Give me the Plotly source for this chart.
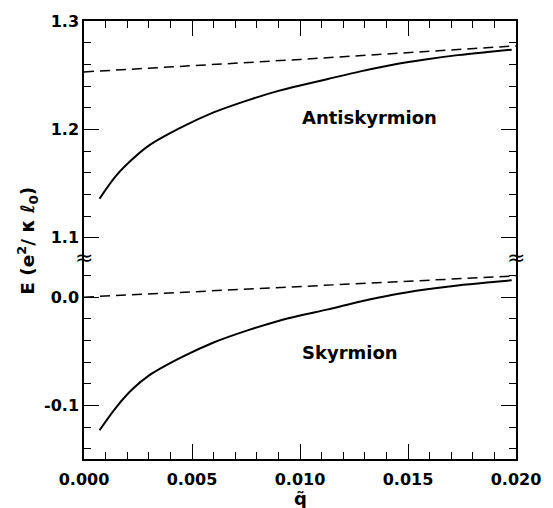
import plotly.graph_objects as go

# Energy of (anti)skyrmion vs. q-tilde; y axis broken between 0.035 and 1.08
q_anti = [0.00072, 0.0015, 0.00226, 0.0030, 0.0045, 0.0060, 0.0075, 0.0090,
          0.0100, 0.0113, 0.0128, 0.0143, 0.0158, 0.0173, 0.0188, 0.0198]
e_anti = [1.136, 1.1575, 1.1728, 1.1850, 1.2018, 1.2156, 1.2263, 1.2355,
          1.2405, 1.2465, 1.2535, 1.2597, 1.2645, 1.2685, 1.2716, 1.2735]

q_sky = [0.00072, 0.0015, 0.00226, 0.0030, 0.0045, 0.0060, 0.0075, 0.0090,
         0.0100, 0.0113, 0.0128, 0.0143, 0.0158, 0.0173, 0.0188, 0.0198]
e_sky = [-0.1229, -0.1015, -0.0847, -0.0725, -0.0557, -0.0419, -0.0312, -0.0220,
         -0.0170, -0.0113, -0.0040, 0.0022, 0.0070, 0.0108, 0.0138, 0.0156]

q_ref = [0.0, 0.010, 0.020]
e_anti_ref = [1.253, 1.2645, 1.277]
e_sky_ref = [0.0, 0.0101, 0.0196]

x_ticks = [0.000, 0.005, 0.010, 0.015, 0.020]
x_ticktext = ["0.000", "0.005", "0.010", "0.015", "0.020"]
y_hi_ticks = [1.1, 1.2, 1.3]
y_hi_text = ["1.1", "1.2", "1.3"]
y_lo_ticks = [-0.1, 0.0]
y_lo_text = ["-0.1", "0.0"]

FONT = "DejaVu Sans"
split = 0.4558

fig = go.Figure()

solid = dict(color="black", width=2, shape="spline", smoothing=1)
dashed = dict(color="black", width=1.5, dash="10px,6px")

fig.add_trace(go.Scatter(x=q_anti, y=e_anti, mode="lines", line=solid,
                         xaxis="x2", yaxis="y2", showlegend=False))
fig.add_trace(go.Scatter(x=q_ref, y=e_anti_ref, mode="lines", line=dashed,
                         xaxis="x2", yaxis="y2", showlegend=False))
fig.add_trace(go.Scatter(x=q_sky, y=e_sky, mode="lines", line=solid,
                         xaxis="x", yaxis="y", showlegend=False))
fig.add_trace(go.Scatter(x=q_ref, y=e_sky_ref, mode="lines", line=dashed,
                         xaxis="x", yaxis="y", showlegend=False))

tickfont = dict(family=FONT, size=16, color="black", weight="bold")
common_x = dict(range=[0, 0.020], showgrid=False, zeroline=False,
                showline=True, linecolor="black", linewidth=1.5,
                ticks="inside", ticklen=15, tickwidth=1.3, tickcolor="black",
                tickvals=x_ticks,
                minor=dict(dtick=0.001, tick0=0, ticks="inside", ticklen=7,
                           tickwidth=1.2, tickcolor="black", showgrid=False))
common_y = dict(showgrid=False, zeroline=False, showline=True,
                linecolor="black", linewidth=1.5, mirror="ticks",
                ticks="inside", ticklen=15, tickwidth=1.3, tickcolor="black",
                tickfont=tickfont)

fig.update_layout(
    width=553, height=508,
    margin=dict(l=84, r=27, t=18, b=49),
    paper_bgcolor="white", plot_bgcolor="white",
    xaxis=dict(**common_x, anchor="y", side="bottom", ticktext=x_ticktext,
               tickfont=tickfont, ticklabelstandoff=5),
    xaxis2=dict(**common_x, anchor="y2", side="top", matches="x",
                showticklabels=False),
    yaxis=dict(**common_y, anchor="x", domain=[0, split],
               range=[-0.1495, 0.0349], tickvals=y_lo_ticks, ticktext=y_lo_text,
               minor=dict(dtick=0.02, tick0=0, ticks="inside", ticklen=7,
                          tickwidth=1.2, tickcolor="black", showgrid=False)),
    yaxis2=dict(**common_y, anchor="x2", domain=[split, 1],
                range=[1.08, 1.3], tickvals=y_hi_ticks, ticktext=y_hi_text,
                minor=dict(dtick=0.02, tick0=1.1, ticks="inside", ticklen=7,
                           tickwidth=1.2, tickcolor="black", showgrid=False)),
)

label_font = dict(family=FONT, size=18, color="black", weight="bold")
fig.add_annotation(x=0.0100, y=1.211, xref="x2", yref="y2", text="Antiskyrmion",
                   showarrow=False, xanchor="left", yanchor="middle", font=label_font)
fig.add_annotation(x=0.0100, y=-0.051, xref="x", yref="y", text="Skyrmion",
                   showarrow=False, xanchor="left", yanchor="middle", font=label_font)

# axis-break marks on both vertical axes
for xp in (0, 1):
    fig.add_annotation(x=xp, y=split, xref="paper", yref="paper", text="≈",
                       showarrow=False, xanchor="center", yanchor="middle",
                       yshift=2,
                       font=dict(family=FONT, size=22, color="black"))

fig.add_annotation(x=0.010, y=0, xref="x", yref="paper", yshift=-27,
                   text="q̃", showarrow=False, xanchor="center", yanchor="top",
                   font=dict(family=FONT, size=18, color="black", weight="bold"))
fig.add_annotation(x=-0.131, y=0.499, xref="paper", yref="paper",
                   text="E (e<sup>2</sup>/ κ ℓ<sub>0</sub>)", textangle=-90,
                   showarrow=False, xanchor="center", yanchor="middle",
                   font=dict(family=FONT, size=18.5, color="black", weight="bold"))

fig.write_html("out.html")
